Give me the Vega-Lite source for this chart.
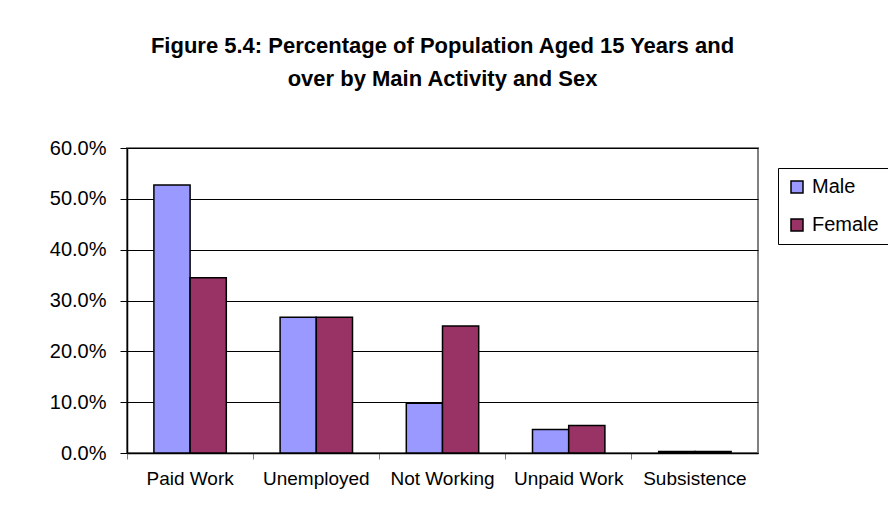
{
  "$schema": "https://vega.github.io/schema/vega-lite/v6.json",
  "width": 631,
  "height": 305,
  "autosize": {"type": "none"},
  "padding": {"left": 127, "top": 148, "right": 130, "bottom": 60},
  "background": "white",
  "title": {
    "text": ["Figure 5.4: Percentage of Population Aged 15 Years and", "over by Main Activity and Sex"],
    "font": "Liberation Sans",
    "fontSize": 22,
    "fontWeight": "bold",
    "lineHeight": 33,
    "anchor": "middle",
    "offset": 47,
    "color": "black"
  },
  "data": {
    "values": [
      {"Activity": "Paid Work", "Sex": "Male", "Value": 0.527},
      {"Activity": "Paid Work", "Sex": "Female", "Value": 0.345},
      {"Activity": "Unemployed", "Sex": "Male", "Value": 0.267},
      {"Activity": "Unemployed", "Sex": "Female", "Value": 0.267},
      {"Activity": "Not Working", "Sex": "Male", "Value": 0.098},
      {"Activity": "Not Working", "Sex": "Female", "Value": 0.25},
      {"Activity": "Unpaid Work", "Sex": "Male", "Value": 0.046},
      {"Activity": "Unpaid Work", "Sex": "Female", "Value": 0.054},
      {"Activity": "Subsistence", "Sex": "Male", "Value": 0.003},
      {"Activity": "Subsistence", "Sex": "Female", "Value": 0.003}
    ]
  },
  "mark": {"type": "bar", "stroke": "black", "strokeWidth": 1.5},
  "encoding": {
    "x": {
      "field": "Activity",
      "type": "nominal",
      "sort": null,
      "scale": {"paddingInner": 0, "paddingOuter": 0},
      "axis": {
        "title": null,
        "labelAngle": 0,
        "bandPosition": 0,
        "labelFont": "Liberation Sans",
        "labelFontSize": 19,
        "labelColor": "black",
        "labelPadding": 10,
        "tickSize": 6,
        "tickColor": "#808080",
        "domainColor": "black",
        "domainWidth": 1.5,
        "grid": false
      }
    },
    "xOffset": {
      "field": "Sex",
      "sort": ["Male", "Female"],
      "scale": {"paddingOuter": 0.743, "paddingInner": 0}
    },
    "y": {
      "field": "Value",
      "type": "quantitative",
      "scale": {"domain": [0, 0.6], "nice": false},
      "axis": {
        "title": null,
        "format": ".1%",
        "values": [0, 0.1, 0.2, 0.3, 0.4, 0.5, 0.6],
        "labelFont": "Liberation Sans",
        "labelFontSize": 20,
        "labelColor": "black",
        "labelPadding": 14,
        "tickSize": 7,
        "tickColor": "black",
        "domainColor": "black",
        "domainWidth": 1.5,
        "grid": true,
        "gridColor": "black",
        "gridWidth": 1.2
      }
    },
    "color": {
      "field": "Sex",
      "type": "nominal",
      "scale": {"domain": ["Male", "Female"], "range": ["#9999FF", "#993366"]},
      "legend": {
        "title": null,
        "orient": "none",
        "legendX": 651,
        "legendY": 20,
        "strokeColor": "black",
        "fillColor": "white",
        "padding": 9,
        "labelFont": "Liberation Sans",
        "labelFontSize": 20,
        "labelColor": "black",
        "labelOffset": 5,
        "rowPadding": 18,
        "symbolType": "square",
        "symbolSize": 144,
        "symbolStrokeColor": "black",
        "symbolStrokeWidth": 1.5,
        "symbolOpacity": 1
      }
    }
  },
  "config": {
    "view": {"stroke": "#808080", "strokeWidth": 2}
  }
}
